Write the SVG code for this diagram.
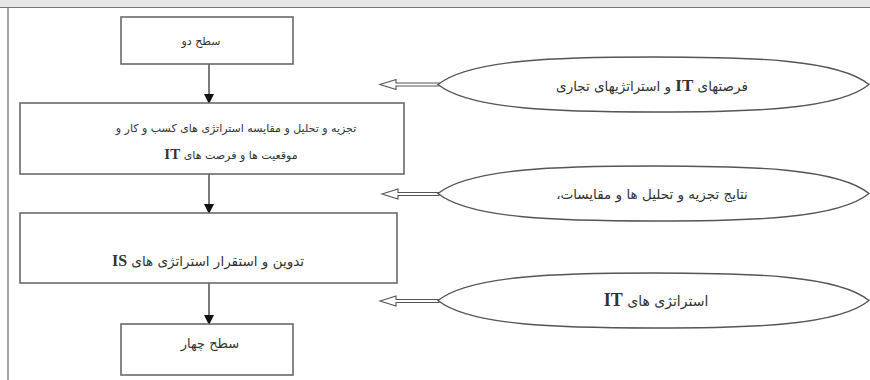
<svg xmlns="http://www.w3.org/2000/svg" width="870" height="380" viewBox="0 0 870 380">
<defs>
<style>
.box{fill:#ffffff;stroke:#6a6a6a;stroke-width:1.6}
.ell{fill:#ffffff;stroke:#555555;stroke-width:1.4}
.t{font-family:"DejaVu Sans",sans-serif;font-size:11px;fill:#333333;text-anchor:middle;direction:rtl}
.lat{font-family:"Liberation Serif",serif;font-weight:bold;font-size:15px}
.flow{stroke:#222222;stroke-width:1.2;fill:none}
.hollow{fill:#ffffff;stroke:#555555;stroke-width:1.1}
</style>
<marker id="ah" markerWidth="10" markerHeight="10" refX="9" refY="5" orient="auto" markerUnits="userSpaceOnUse">
<path d="M0,0 L10,5 L0,10 Z" fill="#111111"/>
</marker>
</defs>
<rect x="0" y="0" width="870" height="380" fill="#ffffff"/>
<rect x="0" y="0" width="870" height="7" fill="#e6e6e6"/>
<line x1="0" y1="7.5" x2="870" y2="7.5" stroke="#777777" stroke-width="1.2"/>
<line x1="8" y1="7.5" x2="8" y2="380" stroke="#666666" stroke-width="1.2"/>

<g id="connectors">
<line class="flow" x1="209" y1="64" x2="209" y2="103" marker-end="url(#ah)"/>
<line class="flow" x1="209" y1="174" x2="209" y2="213" marker-end="url(#ah)"/>
<line class="flow" x1="209" y1="283" x2="209" y2="324" marker-end="url(#ah)"/>
<polygon class="hollow" points="380,84.5 396,79.5 396,83 439,83 439,86 396,86 396,89.5"/>
<polygon class="hollow" points="382,194 398,189 398,192.5 439,192.5 439,195.5 398,195.5 398,199"/>
<polygon class="hollow" points="380,301 396,296 396,299.5 439,299.5 439,302.5 396,302.5 396,306"/>
</g>

<g id="box1">
<rect class="box" x="121" y="17" width="172" height="47"/>
<text class="t" x="201" y="45">سطح دو</text>
</g>
<g id="box2">
<rect class="box" x="20" y="103" width="384" height="71"/>
<text class="t" x="236" y="132">تجزیه و تحلیل و مقایسه استراتژی های کسب و کار و</text>
<text class="t" x="231" y="159">موقعیت ها و فرصت های <tspan class="lat">IT</tspan></text>
</g>
<g id="box3">
<rect class="box" x="20" y="213" width="377" height="70"/>
<text class="t" x="208" y="266" style="font-size:13.5px">تدوین و استقرار استراتژی های <tspan class="lat" style="font-size:16px">IS</tspan></text>
</g>
<g id="box4">
<rect class="box" x="121" y="324" width="172" height="51"/>
<text class="t" x="210" y="348" style="font-size:13px">سطح چهار</text>
</g>
<g id="ell1">
<path class="ell" d="M438,84.5 C470,59 560,57 654,57 C750,57 838,59 869,84.5 C838,110 750,112 654,112 C560,112 470,110 438,84.5 Z"/>
<text class="t" x="652" y="91" style="font-size:13.5px">فرصتهای <tspan class="lat" style="font-size:17px">IT</tspan> و استراتژیهای تجاری</text>
</g>
<g id="ell2">
<path class="ell" d="M438,193.5 C470,168 560,166 654,166 C750,166 838,168 869,193.5 C838,219 750,221 654,221 C560,221 470,219 438,193.5 Z"/>
<text class="t" x="652" y="199" style="font-size:13.5px">نتایج تجزیه و تحلیل ها و مقایسات،</text>
</g>
<g id="ell3">
<path class="ell" d="M438,300.5 C470,275 560,273 654,273 C750,273 838,275 869,300.5 C838,326 750,328 654,328 C560,328 470,326 438,300.5 Z"/>
<text class="t" x="656" y="306" style="font-size:14px">استراتژی های <tspan class="lat" style="font-size:18px">IT</tspan></text>
</g>
</svg>
